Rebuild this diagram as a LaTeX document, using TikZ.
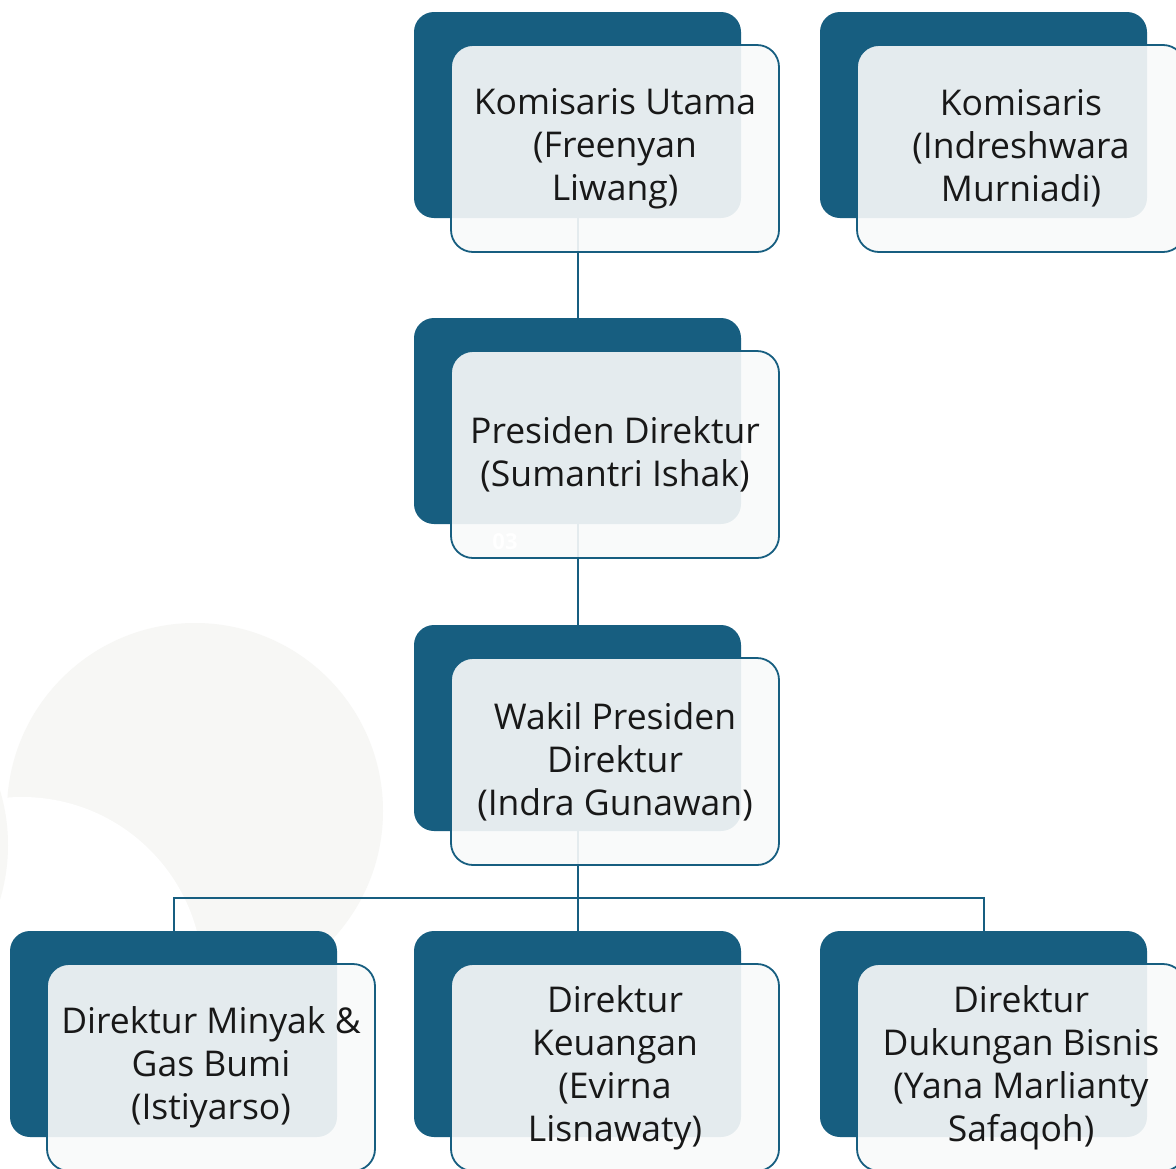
\documentclass[tikz,border=0pt]{standalone}
\usepackage{fontspec}
\setmainfont{Open Sans}
\usetikzlibrary{positioning}

\definecolor{boxblue}{RGB}{23,94,128}
\definecolor{frontfill}{RGB}{249,250,250}
\definecolor{bgcircle}{RGB}{247,247,245}
\definecolor{textdark}{RGB}{24,24,24}

\begin{document}
\begin{tikzpicture}[
		x=1pt, y=-1pt,
		backbox/.style={fill=boxblue, rounded corners=20pt, minimum width=327pt, minimum height=206pt, inner sep=0pt},
		frontbox/.style={draw=boxblue, line width=1.8pt, fill=frontfill, fill opacity=0.91, text opacity=1,
			rounded corners=22pt, minimum width=328pt, minimum height=207pt, inner sep=0pt,
			align=center, text=textdark, font=\fontsize{35.5}{43}\selectfont},
		link/.style={draw=boxblue, line width=2pt},
	]
		\useasboundingbox (0,0) rectangle (1176,1168);
		\clip (0,0) rectangle (1176,1168);
		\fill[white] (0,0) rectangle (1176,1168);

		% background decoration
		\fill[bgcircle] (195,811) circle[radius=188];
		\fill[white] (22,978) circle[radius=181];
		\fill[bgcircle] (-182,845) circle[radius=190];

		% back boxes
		\node [backbox] (kuB) at (577.5,115) {};
		\node [backbox] (komB) at (983.5,115) {};
		\node [backbox] (pdB) at (577.5,421) {};
		\node [backbox] (wpdB) at (577.5,728) {};
		\node [backbox] (dmgB) at (173.5,1034) {};
		\node [backbox] (dkB) at (577.5,1034) {};
		\node [backbox] (ddbB) at (983.5,1034) {};
		\coordinate (split) at (577.5,898);

		% connectors
		\draw[link] (kuB.south) -- (pdB.north);
		\draw[link] (pdB.south) -- (wpdB.north);
		\draw[link] (wpdB.south) -- (dkB.north);
		\draw[link] (dmgB.north) |- (split) -| (ddbB.north);

		% front boxes
		\node [frontbox] (kuF) at ([shift={(37.5,33.5)}]kuB) {Komisaris Utama\\(Freenyan\\Liwang)};
		\node [frontbox] (komF) at ([shift={(37.5,33.5)}]komB) {Komisaris\\(Indreshwara\\Murniadi)};
		\node [frontbox] (pdF) at ([shift={(37.5,33.5)}]pdB) {Presiden Direktur\\(Sumantri Ishak)};
		\node [frontbox] (wpdF) at ([shift={(37.5,33.5)}]wpdB) {Wakil Presiden\\Direktur\\(Indra Gunawan)};
		\node [frontbox] (dmgF) at ([shift={(37.5,33.5)}]dmgB) {Direktur Minyak \&\\Gas Bumi\\(Istiyarso)};
		\node [frontbox] (dkF) at ([shift={(37.5,33.5)}]dkB) {Direktur\\Keuangan\\(Evirna\\Lisnawaty)};
		\node [frontbox] (ddbF) at ([shift={(37.5,33.5)}]ddbB) {Direktur\\Dukungan Bisnis\\(Yana Marlianty\\Safaqoh)};
		\node [text=white, font=\bfseries\fontsize{22}{22}\selectfont] (num) at (505,542) {03};
	\end{tikzpicture}
\end{document}
